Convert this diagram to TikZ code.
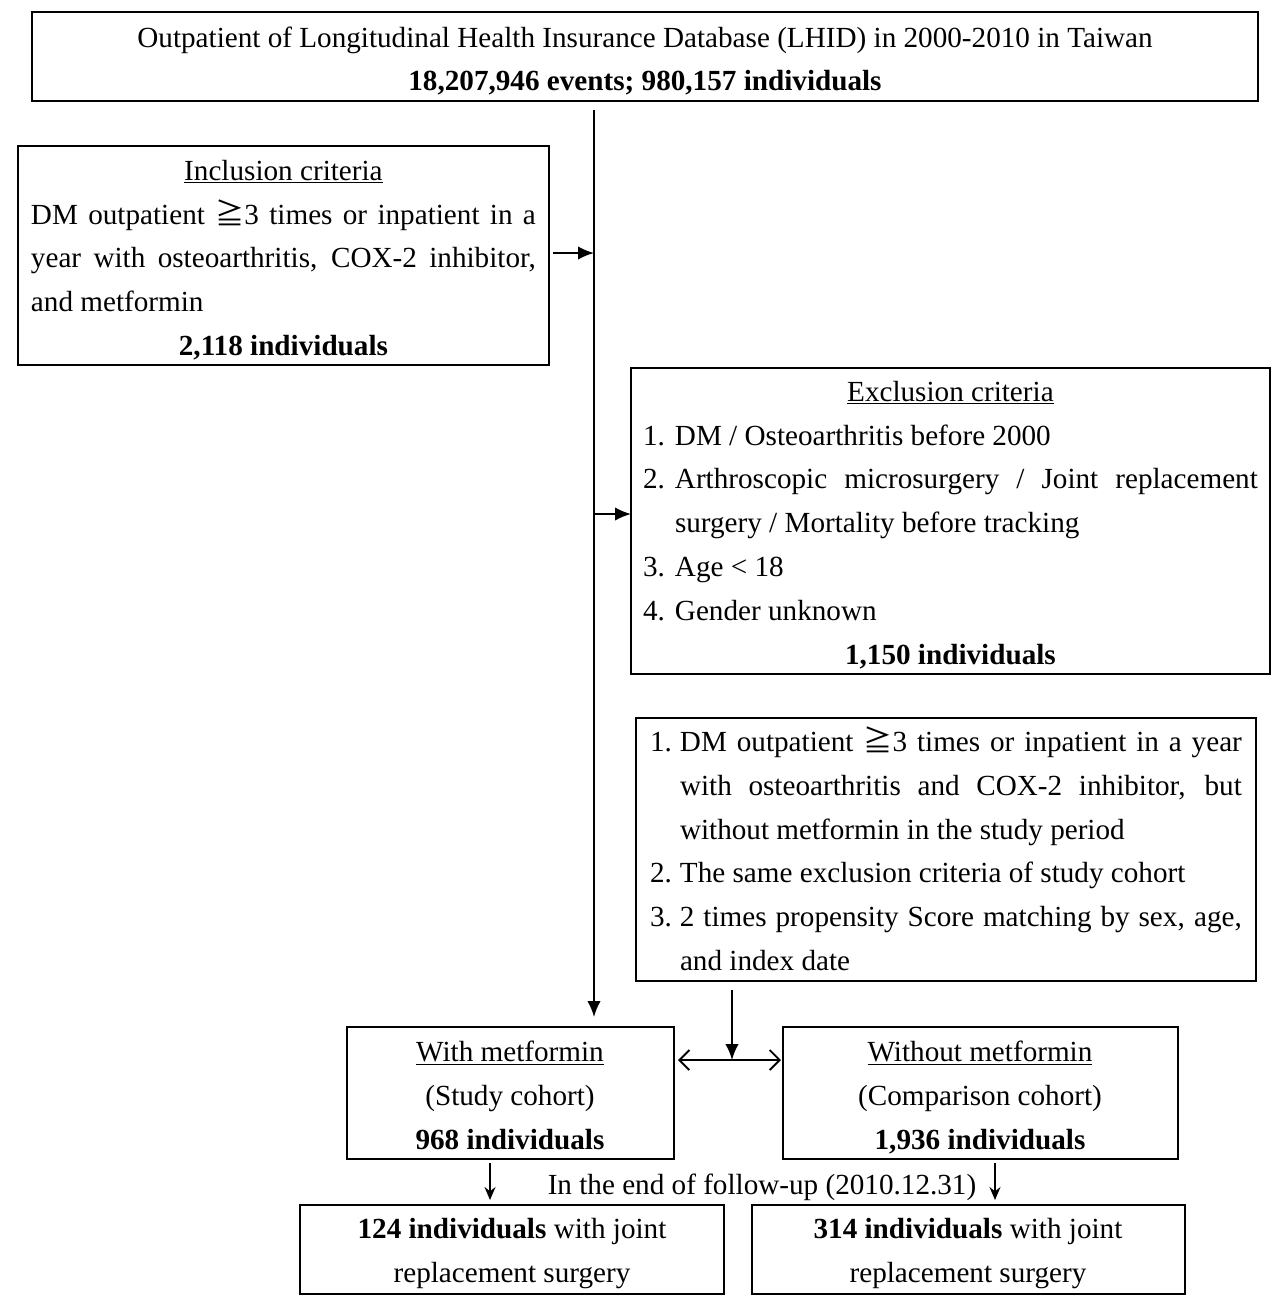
\documentclass[tikz,border=0pt]{standalone}
\usepackage{fontspec}
\setmainfont{Liberation Serif}
\newfontfamily\cjk{Noto Sans CJK SC}
\usetikzlibrary{arrows.meta,fit}
\newcommand\myfs{\fontsize{16.6pt}{25.04pt}\selectfont}
\newcommand\nsp{\spaceskip=0pt\xspaceskip=0pt\relax}
\newcommand\mygeq{{\cjk ≧}}
\begin{document}
\begin{tikzpicture}[x=0.02cm,y=-0.02cm,
  box/.style={draw,line width=0.8pt,inner sep=0pt,outer sep=0pt},
  txt/.style={font=\myfs,inner sep=0pt,outer sep=0pt,align=left},
  ctxt/.style={font=\myfs,inner sep=0pt,outer sep=0pt,align=flush center,anchor=base},
  mainarrow/.style={line width=1.1pt,-{Latex[length=0.32cm,width=0.27cm]}},
  dblarrow/.style={line width=1.1pt,{Straight Barb[length=0.2cm,width=0.4cm]}-{Straight Barb[length=0.2cm,width=0.4cm]}},
  smallarrow/.style={line width=0.8pt,-{Stealth[length=0.26cm,width=0.22cm]}}]
\useasboundingbox[fill=white] (0,0) rectangle (1281,1299);

% boxes
\node[box,fit={(32,12)(1258,101)}] (top) {};
\node[box,fit={(18,146)(549,365)}] (inc) {};
\node[box,fit={(631,368)(1270,674)}] (exc) {};
\node[box,fit={(636,718)(1256,981)}] (match) {};
\node[box,fit={(347,1027)(674,1159)}] (with) {};
\node[box,fit={(783,1027)(1178,1159)}] (without) {};
\node[box,fit={(300,1205)(724,1294)}] (bl) {};
\node[box,fit={(752,1205)(1185,1294)}] (br) {};

% texts
\node[ctxt,text width=24.4cm] (toptxt) at (645,47)
  {\nsp Outpatient of Longitudinal Health Insurance Database (LHID) in 2000-2010 in Taiwan\\
   \textbf{18,207,946 events; 980,157 individuals}};

\node[txt,text width=10.1cm,anchor=base west] (inctxt) at (31,180)
  {\nsp\makebox[\linewidth][c]{\underline{Inclusion criteria}}\\
   \makebox[\linewidth][s]{DM outpatient \mygeq3 times or inpatient in a}\\
   \makebox[\linewidth][s]{year with osteoarthritis, COX-2 inhibitor,}\\
   and metformin\\
   \makebox[\linewidth][c]{\textbf{2,118 individuals}}};

\node[txt,text width=12.3cm,anchor=base west] (exctxt) at (643,401)
  {\nsp\makebox[\linewidth][c]{\underline{Exclusion criteria}}\\
   \makebox[0.64cm][l]{1.}DM / Osteoarthritis before 2000\\
   \makebox[0.64cm][l]{2.}\makebox[\dimexpr\linewidth-0.64cm\relax][s]{Arthroscopic microsurgery / Joint replacement}\\
   \hspace*{0.64cm}surgery / Mortality before tracking\\
   \makebox[0.64cm][l]{3.}Age < 18\\
   \makebox[0.64cm][l]{4.}Gender unknown\\
   \makebox[\linewidth][c]{\textbf{1,150 individuals}}};

\node[txt,text width=11.84cm,anchor=base west] (matchtxt) at (650,751)
  {\nsp\makebox[0.6cm][l]{1.}\makebox[\dimexpr\linewidth-0.6cm\relax][s]{DM outpatient \mygeq3 times or inpatient in a year}\\
   \hspace*{0.6cm}\makebox[\dimexpr\linewidth-0.6cm\relax][s]{with osteoarthritis and COX-2 inhibitor, but}\\
   \hspace*{0.6cm}without metformin in the study period\\
   \makebox[0.6cm][l]{2.}The same exclusion criteria of study cohort\\
   \makebox[0.6cm][l]{3.}\makebox[\dimexpr\linewidth-0.6cm\relax][s]{2 times propensity Score matching by sex, age,}\\
   \hspace*{0.6cm}and index date};

\node[ctxt,text width=6cm] (withtxt) at (510,1061)
  {\nsp\underline{With metformin}\\(Study cohort)\\\textbf{968 individuals}};
\node[ctxt,text width=7.5cm] (withouttxt) at (980,1061)
  {\nsp\underline{Without metformin}\\(Comparison cohort)\\\textbf{1,936 individuals}};
\node[ctxt] (fu) at (762,1194) {\nsp In the end of follow-up (2010.12.31)};
\node[ctxt,text width=8cm] (bltxt) at (512,1238)
  {\nsp\textbf{124 individuals} with joint\\replacement surgery};
\node[ctxt,text width=8cm] (brtxt) at (968,1238)
  {\nsp\textbf{314 individuals} with joint\\replacement surgery};

% connectors
\coordinate (spine) at (594,110);
\coordinate (e1) at (594,514);
\coordinate (i1) at (594,253);
\coordinate (mid) at (732,1060);
\coordinate (la) at (490,1180);
\coordinate (ra) at (995,1180);

\draw[mainarrow,shorten <=0.18cm,shorten >=0.2cm] (top.south -| spine) -- (with.north -| spine);
\draw[mainarrow,shorten <=0.08cm] (inc.east |- i1) -- (i1);
\draw[mainarrow] (e1) -- (e1 -| exc.west);
\draw[mainarrow,shorten <=0.18cm] (match.south -| mid) -- (mid);
\draw[dblarrow,shorten <=0.08cm,shorten >=0.04cm] (with.east |- mid) -- (without.west |- mid);
\draw[smallarrow,shorten <=0.08cm,shorten >=0.1cm] (with.south -| la) -- (bl.north -| la);
\draw[smallarrow,shorten <=0.08cm,shorten >=0.1cm] (without.south -| ra) -- (br.north -| ra);
\end{tikzpicture}
\end{document}
